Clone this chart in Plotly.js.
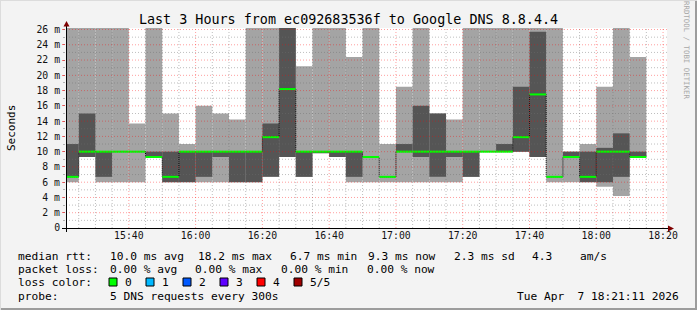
<!DOCTYPE html>
<html><head><meta charset="utf-8">
<script src="https://cdn.plot.ly/plotly-3.0.1.min.js"></script>
<style>html,body{margin:0;padding:0;background:#f3f3f3}#chart{width:697px;height:310px}</style>
</head><body><div id="chart"></div><script>
// ---- data (5-minute steps, value at end of step; ms) ----
const stepEnds = ['15:25','15:30','15:35','15:40','15:45','15:50','15:55','16:00','16:05','16:10','16:15','16:20','16:25','16:30','16:35','16:40','16:45','16:50','16:55','17:00','17:05','17:10','17:15','17:20','17:25','17:30','17:35','17:40','17:45','17:50','17:55','18:00','18:05','18:10','18:15'];
const pingMin = [6.0,9.3,6.0,6.0,6.0,9.3,6.0,6.0,6.0,6.0,6.0,6.0,6.7,9.3,6.7,9.8,9.3,6.0,6.0,6.0,6.0,6.0,6.0,6.0,6.7,10.0,10.0,10.0,9.3,6.0,6.0,6.0,5.4,4.2,9.3];
const ping2   = [6.7,9.3,6.7,10.0,10.0,9.3,6.0,6.0,6.7,9.3,6.0,6.0,6.7,9.3,6.7,9.8,9.3,6.7,9.3,6.7,10.0,9.3,6.7,9.3,6.7,10.0,10.0,10.0,9.3,6.7,9.3,6.0,6.0,6.7,9.3];
const median  = [6.7,10.0,10.0,10.0,10.0,9.3,6.7,10.0,10.0,10.0,10.0,10.0,11.9,18.2,10.0,10.0,10.0,10.0,9.3,6.7,10.0,10.0,10.0,10.0,10.0,10.0,10.0,11.9,17.5,6.7,9.3,6.7,10.0,10.0,9.3];
const ping4   = [11.0,15.0,10.0,10.0,10.0,10.0,10.0,10.0,10.0,10.0,10.0,10.0,13.7,30,10.0,10.0,10.0,10.0,9.3,6.7,11.0,16.0,15.0,10.0,10.0,10.0,11.0,18.5,25.7,6.7,10.0,10.0,10.5,12.4,10.0];
const pingMax = [30,30,30,30,13.7,30,15.0,11.0,16.0,15.0,14.2,30,30,30,21.2,30,30,22.4,30,11.0,18.5,30,15.0,14.2,30,30,30,30,30,30,10.0,11.0,18.5,30,22.4];
const yTickVals = [0,2,4,6,8,10,12,14,16,18,20,22,24,26];
const yTickText = ['0','2 m','4 m','6 m','8 m','10 m','12 m','14 m','16 m','18 m','20 m','22 m','24 m','26 m'];
const titleText = 'Last 3 Hours from ec092683536f to Google DNS 8.8.4.4';
const legendRtt = [['median rtt:',16],['10.0 ms avg',108],['18.2 ms max',196],['6.7 ms min',288],['9.3 ms now',366],['2.3 ms sd',452],['4.3',530],['am/s',578]];
const legendLoss = [['packet loss:',16],['0.00 % avg',108],['0.00 % max',193],['0.00 % min',279],['0.00 % now',365]];
const lossLabels = ['0','1','2','3','4','5/5'];
const lossColors = ['#00ff00','#00b8ff','#0059ff','#5e00ff','#ff0000','#a00000'];
const probeText = '5 DNS requests every 300s';
const dateText = 'Tue Apr  7 18:21:11 2026';

// ---- helpers ----
const STEP = 5*60000;
function tm(hm){const p=hm.split(':').map(Number);return Date.UTC(2026,3,7,p[0],p[1],p[2]||0);}
const ends = stepEnds.map(tm);
const centers = ends.map(e=>e-STEP/2);
const starts = ends.map(e=>e-STEP);
const W=697,H=310,L=66,R=30,T=28,B=82;
const PW=W-L-R, PH=H-T-B;
const px=x=>(x-L)/PW, py=y=>(H-B-y)/PH;
const FONT='DejaVu Sans Mono';

const traces=[];
traces.push({type:'bar',x:centers,base:pingMin,y:pingMax.map((v,i)=>v-pingMin[i]),width:STEP,
  marker:{color:'#a4a4a4',line:{width:0}},hoverinfo:'skip',showlegend:false});
traces.push({type:'bar',x:centers,base:ping2,y:ping4.map((v,i)=>v-ping2[i]),width:STEP,
  marker:{color:'#555555',line:{width:0}},hoverinfo:'skip',showlegend:false});
// dotted step connector
traces.push({type:'scatter',mode:'lines',x:starts.concat([ends[ends.length-1]]),y:median.concat([median[median.length-1]]),
  line:{shape:'hv',color:'#000',width:1,dash:'1px,1px'},hoverinfo:'skip',showlegend:false});
// green median segments
const gx=[],gy=[];
for(let i=0;i<median.length;i++){gx.push(starts[i],ends[i],null);gy.push(median[i],median[i],null);}
traces.push({type:'scatter',mode:'lines',x:gx,y:gy,line:{color:'#00ff00',width:2},hoverinfo:'skip',showlegend:false});

const shapes=[];
// vertical grid (5 min minor, 20 min major)
for(let t=tm('15:25');t<=tm('18:20');t+=STEP){
  const major=((t/60000)%20)===0;
  shapes.push({type:'line',xref:'x',yref:'paper',x0:t,x1:t,y0:0,y1:1,layer:'above',
    line:{color:major?'rgba(255,0,0,0.38)':'rgba(110,110,110,0.45)',width:1,dash:'1px,2px'}});
}
for(let v=1;v<=26;v++){
  const major=v%2===0;
  shapes.push({type:'line',xref:'paper',yref:'y',x0:0,x1:1,y0:v,y1:v,layer:'above',
    line:{color:major?'rgba(255,0,0,0.38)':'rgba(110,110,110,0.45)',width:1,dash:'1px,2px'}});
}
// axes lines
shapes.push({type:'line',xref:'paper',yref:'paper',x0:px(62),x1:px(670),y0:py(228.5),y1:py(228.5),line:{color:'#000',width:1}});
shapes.push({type:'line',xref:'paper',yref:'paper',x0:px(66.5),x1:px(66.5),y0:py(232),y1:py(24),line:{color:'#000',width:1}});
shapes.push({type:'path',xref:'paper',yref:'paper',path:`M ${px(63.5)} ${py(26.5)} L ${px(69.5)} ${py(26.5)} L ${px(66.5)} ${py(21)} Z`,fillcolor:'#7f0000',line:{width:0}});
shapes.push({type:'path',xref:'paper',yref:'paper',path:`M ${px(668)} ${py(225.5)} L ${px(668)} ${py(231.5)} L ${px(674)} ${py(228.5)} Z`,fillcolor:'#7f0000',line:{width:0}});
// loss color boxes
lossColors.forEach((c,i)=>{const x0=109+37*i;
  shapes.push({type:'rect',xref:'paper',yref:'paper',x0:px(x0),x1:px(x0+8),y0:py(278),y1:py(286),fillcolor:c,line:{color:'#000',width:1}});});
// frame
shapes.push({type:'line',xref:'paper',yref:'paper',x0:px(0),x1:px(697),y0:py(309),y1:py(309),line:{color:'#9c9c9c',width:2}});
shapes.push({type:'line',xref:'paper',yref:'paper',x0:px(696),x1:px(696),y0:py(0),y1:py(310),line:{color:'#9c9c9c',width:2}});
shapes.push({type:'line',xref:'paper',yref:'paper',x0:px(0),x1:px(697),y0:py(0.5),y1:py(0.5),line:{color:'#dcdcdc',width:1}});
shapes.push({type:'line',xref:'paper',yref:'paper',x0:px(0.5),x1:px(0.5),y0:py(0),y1:py(310),line:{color:'#dcdcdc',width:1}});

const ann=[];
function txt(s,x,y,opt){ann.push(Object.assign({text:s,xref:'paper',yref:'paper',x:px(x),y:py(y),xanchor:'left',yanchor:'middle',showarrow:false,
  font:{family:FONT,size:11.2,color:'#000'}},opt||{}));}
legendRtt.forEach(([s,x])=>txt(s,x,256));
legendLoss.forEach(([s,x])=>txt(s,x,269));
txt('loss color:',16,282);
lossLabels.forEach((s,i)=>txt(s,109+37*i+14,282));
txt('probe:',16,296);
txt(probeText,108,296);
txt(dateText,681,296,{xanchor:'right'});
txt('Seconds',11,128,{xanchor:'center',textangle:-90,font:{family:FONT,size:11,color:'#000'}});
txt('RRDTOOL / TOBI OETIKER',687,50,{xanchor:'center',textangle:90,font:{family:FONT,size:7.4,color:'#a8a8a8'}});

const layout={
  width:W,height:H,margin:{l:L,r:R,t:T,b:B},
  paper_bgcolor:'#f3f3f3',plot_bgcolor:'#ffffff',
  barmode:'overlay',showlegend:false,
  title:{text:titleText,x:348.5/W,xref:'container',xanchor:'center',y:1-19/H,yref:'container',yanchor:'middle',
    font:{family:FONT,size:13.4,color:'#000'}},
  xaxis:{type:'date',range:[Date.UTC(2026,3,7,15,21,11),Date.UTC(2026,3,7,18,21,11)],
    tick0:tm('15:40'),dtick:20*60000,tickformat:'%H:%M',showgrid:false,zeroline:false,showline:false,ticks:'',
    tickfont:{family:FONT,size:9.8,color:'#111'},fixedrange:true},
  yaxis:{range:[0,26.2],tickmode:'array',tickvals:yTickVals,ticktext:yTickText,showgrid:false,zeroline:false,showline:false,
    ticks:'outside',ticklen:3,tickcolor:'rgba(255,0,0,0.5)',
    minor:{ticks:'outside',ticklen:2,dtick:1,tickcolor:'rgba(110,110,110,0.5)',showgrid:false},
    tickfont:{family:FONT,size:9.8,color:'#111'},fixedrange:true},
  shapes:shapes,annotations:ann
};
Plotly.newPlot('chart',traces,layout,{staticPlot:true,displayModeBar:false});
</script></body></html>
